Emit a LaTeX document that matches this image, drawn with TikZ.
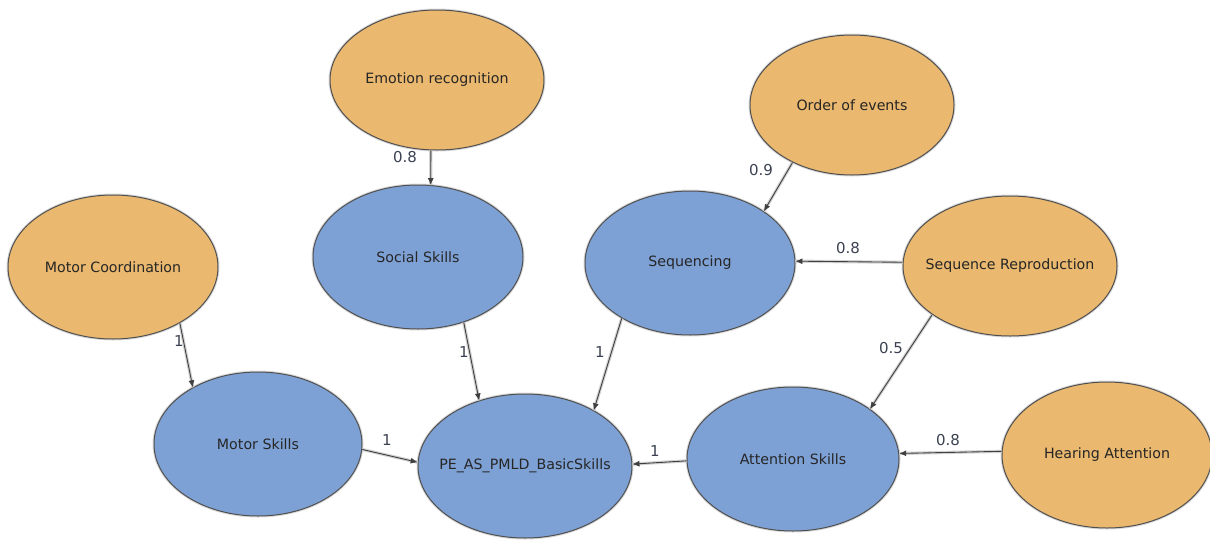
\documentclass[tikz,border=0pt]{standalone}
\usepackage{fontspec}
\setmainfont{DejaVu Sans}
\usetikzlibrary{arrows.meta,shapes.geometric}
\definecolor{orangefill}{HTML}{EAB86E}
\definecolor{bluefill}{HTML}{7EA1D5}
\definecolor{rimcol}{HTML}{505050}
\definecolor{lblcol}{HTML}{3A4150}
\newcommand\ctxt[1]{\makebox[0pt]{#1}}
\begin{document}
\begin{tikzpicture}[x=1pt,y=-1pt,
  ell/.style={ellipse, draw=rimcol, line width=1pt, minimum width=212pt, minimum height=144pt, inner sep=0pt,
    font=\fontsize{14.2}{16}\selectfont, text=black!85, preaction={draw=gray!30, line width=3pt}},
  orng/.style={ell, fill=orangefill},
  blu/.style={ell, fill=bluefill},
  edge/.style={-{Latex[length=7pt,width=6pt]}, draw=black!75, line width=0.9pt,
    preaction={draw=gray!35, line width=3.2pt, -}},
  lbl/.style={font=\fontsize{15}{16}\selectfont, text=lblcol, inner sep=1pt}
]
\useasboundingbox (0,0) rectangle (1210,539);
% nodes
\node[orng, minimum width=214pt, minimum height=140pt] (emo) at (437,80) {\ctxt{Emotion recognition}};
\node[orng, minimum width=204pt, minimum height=140pt] (ord) at (852,105) {\ctxt{Order of events}};
\node[orng, minimum width=210pt] (mco) at (113,267) {\ctxt{Motor Coordination}};
\node[blu, minimum width=210pt] (soc) at (418,257) {\ctxt{Social Skills}};
\node[blu, minimum width=210pt] (seq) at (690,263) {\ctxt{Sequencing}};
\node[orng, minimum width=214pt, minimum height=140pt] (srp) at (1010,266) {\ctxt{Sequence Reproduction}};
\node[blu, minimum width=208pt] (mot) at (258,444) {\ctxt{Motor Skills}};
\node[blu, minimum width=214pt] (pe) at (525,466) {\ctxt{PE\_AS\_PMLD\_BasicSkills}};
\node[blu, minimum width=212pt] (att) at (793,459) {\ctxt{Attention Skills}};
\node[orng, minimum width=210pt, minimum height=146pt] (hear) at (1107,455) {\ctxt{Hearing Attention}};
% edges
\draw[edge] (emo.-95.7) -- (soc.80.5);
\draw[edge] (ord.-136) -- (seq.35);
\draw[edge] (srp.178) -- (seq.1);
\draw[edge] (srp.-148.5) -- (att.33);
\draw[edge] (hear.178) -- (att.3.4);
\draw[edge] (mco.-40) -- (mot.139);
\draw[edge] (soc.-55) -- (pe.125);
\draw[edge] (seq.-141) -- (pe.39);
\draw[edge] (mot.-3.3) -- (pe.178);
\draw[edge] (att.-179.5) -- (pe.1.6);
% labels
\node[lbl] (l1) at (405,157) {0.8};
\node[lbl] (l2) at (761,170) {0.9};
\node[lbl] (l3) at (848,248) {0.8};
\node[lbl] (l4) at (891,348) {0.5};
\node[lbl] (l5) at (948,440) {0.8};
\node[lbl] (l6) at (179,341) {1};
\node[lbl] (l7) at (464,352) {1};
\node[lbl] (l8) at (600,352) {1};
\node[lbl] (l9) at (387,440) {1};
\node[lbl] (l10) at (655,451) {1};
\end{tikzpicture}
\end{document}
